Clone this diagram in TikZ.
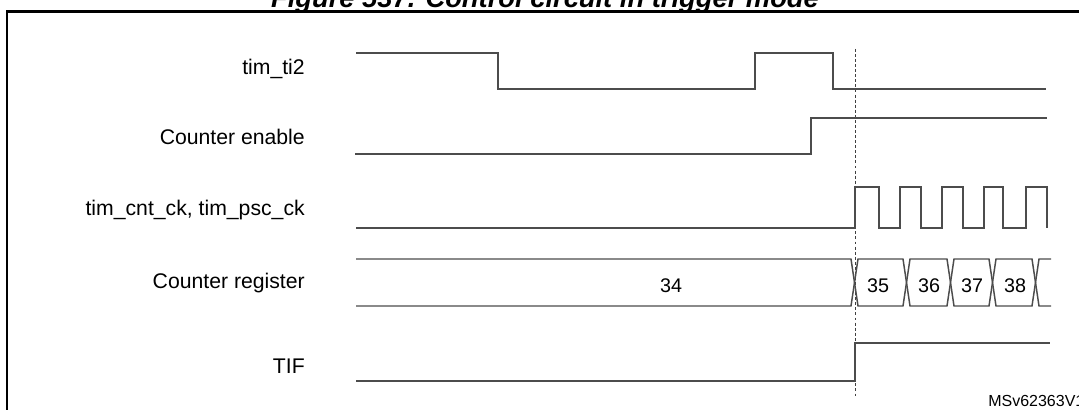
\documentclass[tikz,border=0pt]{standalone}
\usepackage{fontspec}
\setmainfont{Liberation Sans}
\begin{document}
\begin{tikzpicture}[x=0.75pt,y=-0.75pt,
  wave/.style={draw=black!70, line width=1.1pt, line join=miter},
  frameline/.style={draw=black, line width=1.6pt},
  lbl/.style={anchor=base east, inner sep=0pt, font=\fontsize{15.9pt}{18pt}\selectfont},
  val/.style={anchor=base, inner sep=0pt, font=\fontsize{14.8pt}{17pt}\selectfont},
  marker/.style={draw=black!75, line width=0.6pt, dash pattern=on 2.2pt off 1.6pt}]
\useasboundingbox (0,0) rectangle (1079,410);
\fill[white] (0,0) rectangle (1079,410);
% title (cut by the page top)
\node[anchor=base, inner sep=0pt, font=\fontsize{20.5pt}{24pt}\selectfont\bfseries\itshape] (title) at (545,8) {Figure 537. Control circuit in trigger mode};
% frame
\draw[frameline] (7,420) -- (7,11.5) -- (1090,11.5);
% labels
\node[lbl] (lti) at (305,75) {tim\_ti2};
\node[lbl] (lce) at (305,144) {Counter enable};
\node[lbl] (lck) at (305,215) {tim\_cnt\_ck, tim\_psc\_ck};
\node[lbl] (lcr) at (305,288) {Counter register};
\node[lbl] (ltif) at (305,373) {TIF};
% trigger marker
\coordinate (mtop) at (855,49);
\coordinate (mbot) at (855,397);
\draw[marker] (mtop) -- (mbot);
% tim_ti2
\draw[wave] (356,53) -- (498,53) -- (498,89) -- (755,89) -- (755,53) -- (833,53) -- (833,89) -- (1046,89);
% counter enable
\draw[wave] (355,154) -- (811,154) -- (811,118) -- (1047,118);
% clock
\draw[wave] (356,228) -- (855,228) -- (855,187) -- (879,187) -- (879,228) -- (900,228) -- (900,187)
  -- (921,187) -- (921,228) -- (942,228) -- (942,187) -- (963,187) -- (963,228) -- (984,228)
  -- (984,187) -- (1003,187) -- (1003,228) -- (1026,228) -- (1026,187) -- (1047,187) -- (1047,228);
% counter register bus
\def\bt{259}\def\bb{306}\def\h{3.5}
\draw[wave] (356,\bt) -- (854.5-\h,\bt) -- (854.5+\h,\bb) -- (906.5-\h,\bb) -- (906.5+\h,\bt) -- (950.5-\h,\bt) -- (950.5+\h,\bb) -- (992.5-\h,\bb) -- (992.5+\h,\bt) -- (1035.5-\h,\bt) -- (1035.5+\h,\bb) -- (1051,\bb);
\draw[wave] (356,\bb) -- (854.5-\h,\bb) -- (854.5+\h,\bt) -- (906.5-\h,\bt) -- (906.5+\h,\bb) -- (950.5-\h,\bb) -- (950.5+\h,\bt) -- (992.5-\h,\bt) -- (992.5+\h,\bb) -- (1035.5-\h,\bb) -- (1035.5+\h,\bt) -- (1051,\bt);
\node[val] (v34) at (671,292) {34};
\node[val] (v35) at (878,292) {35};
\node[val] (v36) at (929,292) {36};
\node[val] (v37) at (972,292) {37};
\node[val] (v38) at (1015,292) {38};
% TIF
\draw[wave] (356,381) -- (855,381) -- (855,343) -- (1050,343);
% reference code
\node[anchor=base west, inner sep=0pt, font=\fontsize{12pt}{14pt}\selectfont] (code) at (988,406) {MSv62363V1};
\end{tikzpicture}
\end{document}
